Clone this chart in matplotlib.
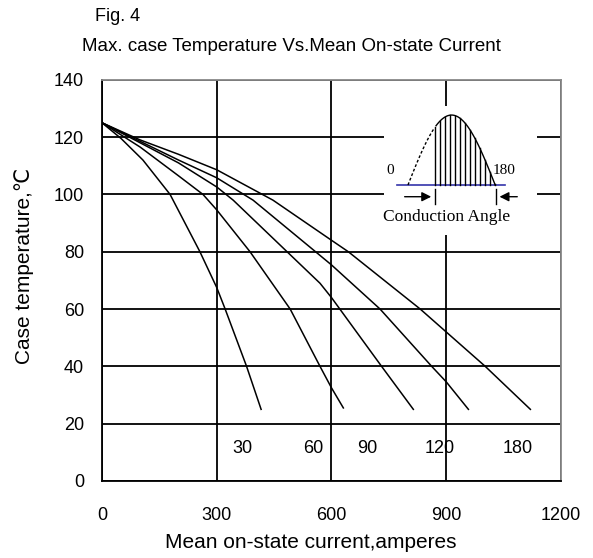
import matplotlib
matplotlib.use("Agg")
import matplotlib.pyplot as plt
import numpy as np

# curvas (angulo de conduccion -> puntos)
x30 = [0, 50, 107, 178, 256, 300, 322, 378, 416]
y30 = [125, 119.5, 112, 100, 80, 67.5, 60, 40, 25]
x60 = [0, 100, 200, 264, 300, 387, 492, 570, 600, 631]
y60 = [125, 116.5, 106.5, 100, 94.6, 80, 60, 40, 32.5, 25.5]
x90 = [0, 100, 200, 300, 343, 487, 570, 600, 731, 814]
y90 = [125, 118, 111, 102.6, 98, 79.6, 69, 64, 40, 25]
x120 = [0, 100, 200, 300, 395, 562, 600, 727, 862, 900, 958]
y120 = [125, 118.5, 112, 105.8, 98, 79.6, 75.4, 60, 40, 34.6, 25]
x180 = [0, 100, 200, 300, 447, 600, 644, 832, 1002, 1120]
y180 = [125, 119, 114, 108.6, 98, 84, 80, 60, 40, 25]

etiquetas = ["30", "60", "90", "120", "180"]
pos_etiq = [366, 552, 693, 884, 1088]

xticks = [0, 300, 600, 900, 1200]
yticks = [0, 20, 40, 60, 80, 100, 120, 140]

sans = ["Liberation Sans", "DejaVu Sans"]
serif = ["Liberation Serif", "DejaVu Serif"]

fig = plt.figure(figsize=(5.93, 5.58), dpi=100)
ax = fig.add_axes([0.172, 0.138, 0.774, 0.719])

for xs, ys in [(x30, y30), (x60, y60), (x90, y90), (x120, y120), (x180, y180)]:
    ax.plot(xs, ys, color="black", lw=1.1, zorder=3)

for et, px in zip(etiquetas, pos_etiq):
    ax.text(px, 11.5, et, ha="center", va="center", fontsize=13, family=sans)

ax.set_xlim(0, 1200)
ax.set_ylim(0, 140)
ax.set_xticks(xticks)
ax.set_yticks(yticks)
ax.grid(True, color="black", lw=1.3)
ax.tick_params(length=0)
ax.tick_params(axis="y", pad=13)
ax.tick_params(axis="x", pad=19)
for lab in ax.get_xticklabels() + ax.get_yticklabels():
    lab.set_family(sans)
    lab.set_fontsize(13)
for s in ["left", "bottom"]:
    ax.spines[s].set_linewidth(1.3)
for s in ["top", "right"]:
    ax.spines[s].set_color("#888888")
    ax.spines[s].set_linewidth(1.3)

ax.set_xlabel("Mean on-state current,amperes", fontsize=15, family=sans)
ax.set_ylabel("Case temperature,\u2103", fontsize=15, family=sans)
ax.xaxis.set_label_coords(0.455, -0.13)
ax.yaxis.set_label_coords(-0.148, 0.535)

# recuadro con la forma de onda
ax.add_patch(plt.Rectangle((737, 86), 400, 45, facecolor="white", edgecolor="none", zorder=2))
ax.plot([771, 1054], [103.3, 103.3], color="#3333aa", lw=1.2, zorder=4)
t = np.linspace(0, 1, 60)
hx = 800 + t * (1028 - 800)
hy = 103.3 + (127.7 - 103.3) * np.sin(np.pi * t)
izq = hx <= 871
ax.plot(hx[izq], hy[izq], color="black", lw=1, ls=(0, (2, 1.5)), zorder=4)
ax.plot(hx[~izq], hy[~izq], color="black", lw=1, zorder=4)
for xv in np.arange(871, 1028, 13):
    yv = 103.3 + (127.7 - 103.3) * np.sin(np.pi * (xv - 800) / (1028 - 800))
    ax.plot([xv, xv], [103.3, yv], color="black", lw=1, zorder=4)
ax.text(753, 108.5, "0", ha="center", va="center", fontsize=11, family=serif, zorder=5)
ax.text(1051, 108.5, "180", ha="center", va="center", fontsize=11, family=serif, zorder=5)
ax.annotate("", xy=(868, 99.2), xytext=(784, 99.2),
            arrowprops=dict(arrowstyle="-|>", color="black", lw=1, mutation_scale=14), zorder=5)
ax.annotate("", xy=(1032, 99.2), xytext=(1093, 99.2),
            arrowprops=dict(arrowstyle="-|>", color="black", lw=1, mutation_scale=14), zorder=5)
ax.plot([871, 871], [96.6, 101.8], color="black", lw=1, zorder=5)
ax.plot([1030, 1030], [96.6, 101.8], color="black", lw=1, zorder=5)
ax.text(901, 92.0, "Conduction Angle", ha="center", va="center", fontsize=12.5, family=serif, zorder=5)

fig.text(0.160, 0.970, "Fig. 4", fontsize=13, family=sans, va="center")
fig.text(0.491, 0.916, "Max. case Temperature Vs.Mean On-state Current", fontsize=13.5,
         family=sans, ha="center", va="center")

fig.savefig("out.png", dpi=100)
